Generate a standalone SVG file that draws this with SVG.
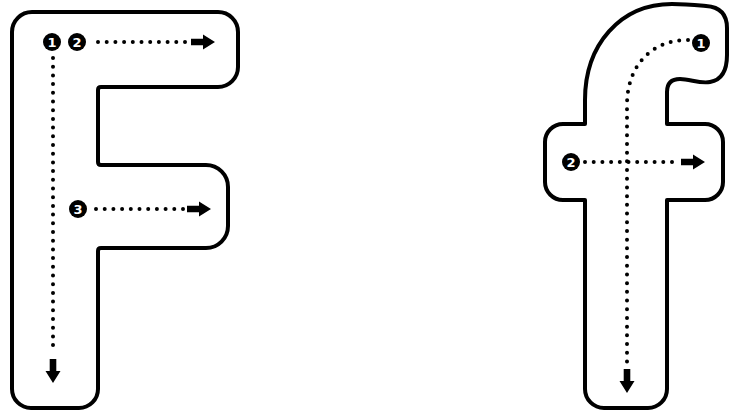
<svg xmlns="http://www.w3.org/2000/svg" width="729" height="417" viewBox="0 0 729 417">
<style>
.outline{fill:#fff;stroke:#000;stroke-width:4;stroke-linejoin:round}
.dots{fill:none;stroke:#000;stroke-width:4;stroke-linecap:round;stroke-dasharray:0 8.7}
.badge circle{fill:#000}
.badge text{fill:#fff;font-family:"DejaVu Sans",sans-serif;font-weight:bold;font-size:13px;text-anchor:middle;dominant-baseline:central}
</style>
<defs>
<polygon id="arr" points="-24,-3.3 -12,-3.3 -12,-7.5 0,0 -12,7.5 -12,3.3 -24,3.3" fill="#000"/>
</defs>
<rect width="729" height="417" fill="#fff"/>
<g id="letter-F">
<path class="outline" d="M12,32 A20,20 0 0 1 32,12 H218 A20,20 0 0 1 238,32 V67 A20,20 0 0 1 218,87 H101 Q98,87 98,90 V162 Q98,165 101,165 H206 A22,22 0 0 1 228,187 V226 A22,22 0 0 1 206,248 H101 Q98,248 98,251 V389 A19,19 0 0 1 79,408 H31 A19,19 0 0 1 12,389 Z"/>
</g>
<g id="letter-f">
<path class="outline" d="M585,200 V389 A19,19 0 0 0 604,408 H648 A19,19 0 0 0 667,389 V200 H705 A18,18 0 0 0 723,182 V142 A18,18 0 0 0 705,124 H667 V92 Q667,79 680,79 C690,79 700,84 710,82 C722,80 727,70 727,55 V28 C727,14 720,7 706,6 C695,5 685,4 672,4 C620,4 585,45 585,100 V124 H563 A18,18 0 0 0 545,142 V182 A18,18 0 0 0 563,200 Z"/>
</g>
<g id="connectors">
<line class="dots" x1="53" y1="58" x2="53" y2="353"/>
<use href="#arr" transform="translate(53,383) rotate(90)"/>
<line class="dots" x1="98" y1="42" x2="185" y2="42"/>
<use href="#arr" transform="translate(215,42)"/>
<line class="dots" x1="96" y1="209" x2="183" y2="209"/>
<use href="#arr" transform="translate(211,209)"/>
<path class="dots" d="M688,40 C652,40 627,65 627,105 V365"/>
<use href="#arr" transform="translate(627,393) rotate(90)"/>
<line class="dots" x1="585" y1="162" x2="677" y2="162"/>
<use href="#arr" transform="translate(705,162)"/>
</g>
<g id="badge-F1" class="badge"><circle cx="52" cy="42" r="9"/><text x="52" y="42.5">1</text></g>
<g id="badge-F2" class="badge"><circle cx="77" cy="42" r="9"/><text x="77" y="42.5">2</text></g>
<g id="badge-F3" class="badge"><circle cx="78" cy="209" r="9"/><text x="78" y="209.5">3</text></g>
<g id="badge-f1" class="badge"><circle cx="701" cy="43" r="9"/><text x="701" y="43.5">1</text></g>
<g id="badge-f2" class="badge"><circle cx="571" cy="162" r="9"/><text x="571" y="162.5">2</text></g>
</svg>
